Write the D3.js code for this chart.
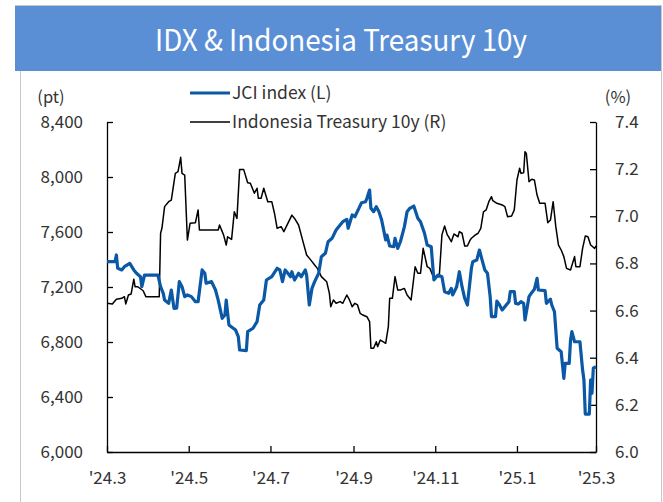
<!DOCTYPE html>
<html>
<head>
<meta charset="utf-8">
<script src="https://cdn.jsdelivr.net/npm/d3@7"></script>
<style>
  html, body { margin: 0; padding: 0; background: #fff; }
  svg text { font-family: "Noto Sans CJK KR", "Noto Sans", sans-serif; fill: #333; }
</style>
</head>
<body>
<svg id="chart" width="663" height="502"></svg>
<script>
// JCI index (L)
const jciDates = ["2024-03-01","2024-03-07","2024-03-08","2024-03-09","2024-03-12","2024-03-14","2024-03-18","2024-03-21","2024-03-23","2024-03-26","2024-03-27","2024-03-29","2024-04-08","2024-04-10","2024-04-12","2024-04-13","2024-04-16","2024-04-18","2024-04-20","2024-04-22","2024-04-24","2024-04-26","2024-04-28","2024-04-30","2024-05-03","2024-05-06","2024-05-08","2024-05-11","2024-05-13","2024-05-14","2024-05-18","2024-05-21","2024-05-23","2024-05-26","2024-05-28","2024-05-29","2024-05-31","2024-06-05","2024-06-07","2024-06-08","2024-06-13","2024-06-14","2024-06-18","2024-06-21","2024-06-23","2024-06-26","2024-06-28","2024-07-02","2024-07-06","2024-07-08","2024-07-10","2024-07-12","2024-07-14","2024-07-16","2024-07-17","2024-07-19","2024-07-22","2024-07-24","2024-07-27","2024-07-28","2024-07-30","2024-08-01","2024-08-03","2024-08-06","2024-08-08","2024-08-11","2024-08-13","2024-08-16","2024-08-19","2024-08-22","2024-08-24","2024-08-27","2024-08-28","2024-08-31","2024-09-02","2024-09-05","2024-09-07","2024-09-10","2024-09-11","2024-09-13","2024-09-14","2024-09-16","2024-09-18","2024-09-20","2024-09-22","2024-09-23","2024-09-25","2024-09-26","2024-09-28","2024-10-01","2024-10-02","2024-10-04","2024-10-06","2024-10-09","2024-10-11","2024-10-13","2024-10-16","2024-10-19","2024-10-21","2024-10-24","2024-10-26","2024-10-29","2024-10-31","2024-11-03","2024-11-06","2024-11-08","2024-11-11","2024-11-13","2024-11-14","2024-11-17","2024-11-19","2024-11-21","2024-11-23","2024-11-25","2024-11-28","2024-11-29","2024-12-02","2024-12-04","2024-12-06","2024-12-08","2024-12-10","2024-12-12","2024-12-13","2024-12-16","2024-12-17","2024-12-19","2024-12-21","2024-12-24","2024-12-26","2024-12-27","2024-12-30","2024-12-31","2025-01-02","2025-01-04","2025-01-06","2025-01-07","2025-01-10","2025-01-12","2025-01-14","2025-01-16","2025-01-17","2025-01-22","2025-01-23","2025-01-26","2025-01-27","2025-01-29","2025-01-31","2025-02-03","2025-02-05","2025-02-06","2025-02-09","2025-02-10","2025-02-11","2025-02-13","2025-02-17","2025-02-19","2025-02-20","2025-02-21","2025-02-24","2025-02-25","2025-02-26","2025-02-27","2025-03-01"];
const jciValues = [7384,7384,7433,7336,7324,7348,7372,7324,7300,7275,7202,7287,7287,7202,7154,7105,7081,7178,7045,7047,7239,7202,7130,7142,7130,7093,7093,7324,7300,7227,7239,7178,7105,6972,6996,7105,6924,6887,6839,6742,6737,6875,6900,6948,7069,7105,7251,7275,7336,7324,7239,7324,7300,7275,7311,7251,7300,7275,7324,7287,7069,7190,7239,7300,7420,7445,7529,7554,7615,7651,7675,7692,7627,7724,7711,7772,7813,7820,7845,7905,7772,7748,7784,7748,7687,7639,7542,7578,7498,7493,7554,7481,7529,7639,7748,7772,7789,7700,7675,7591,7505,7493,7251,7287,7275,7166,7154,7190,7142,7202,7311,7202,7118,7069,7336,7384,7396,7469,7396,7324,7300,7130,6984,6984,7098,7069,7033,7069,7093,7166,7166,7081,7076,7093,7081,6960,7130,7159,7183,7263,7178,7173,7081,7111,7069,7020,6754,6729,6536,6645,6645,6815,6875,6802,6802,6596,6524,6276,6276,6524,6427,6609,6620];

// Indonesia Treasury 10y (R), %
const ytmDates = ["2024-03-01","2024-03-05","2024-03-08","2024-03-12","2024-03-14","2024-03-15","2024-03-17","2024-03-19","2024-03-21","2024-03-22","2024-03-24","2024-03-28","2024-03-30","2024-04-09","2024-04-10","2024-04-11","2024-04-13","2024-04-16","2024-04-18","2024-04-21","2024-04-23","2024-04-25","2024-04-26","2024-04-28","2024-04-30","2024-05-02","2024-05-06","2024-05-08","2024-05-09","2024-05-23","2024-05-24","2024-05-27","2024-05-29","2024-05-30","2024-06-02","2024-06-04","2024-06-06","2024-06-08","2024-06-11","2024-06-14","2024-06-16","2024-06-19","2024-06-21","2024-06-22","2024-06-24","2024-06-26","2024-06-29","2024-07-02","2024-07-04","2024-07-06","2024-07-09","2024-07-11","2024-07-14","2024-07-17","2024-07-19","2024-07-22","2024-07-25","2024-07-28","2024-07-31","2024-08-03","2024-08-05","2024-08-08","2024-08-12","2024-08-14","2024-08-15","2024-08-17","2024-08-19","2024-08-22","2024-08-24","2024-08-27","2024-08-29","2024-08-31","2024-09-02","2024-09-04","2024-09-06","2024-09-08","2024-09-11","2024-09-13","2024-09-14","2024-09-16","2024-09-18","2024-09-19","2024-09-21","2024-09-23","2024-09-25","2024-09-27","2024-09-28","2024-09-30","2024-10-02","2024-10-04","2024-10-06","2024-10-09","2024-10-11","2024-10-14","2024-10-17","2024-10-19","2024-10-21","2024-10-23","2024-10-26","2024-10-28","2024-10-30","2024-11-01","2024-11-04","2024-11-06","2024-11-08","2024-11-10","2024-11-11","2024-11-13","2024-11-15","2024-11-18","2024-11-19","2024-11-21","2024-11-23","2024-11-25","2024-11-27","2024-11-28","2024-12-01","2024-12-03","2024-12-05","2024-12-07","2024-12-09","2024-12-11","2024-12-13","2024-12-14","2024-12-17","2024-12-21","2024-12-23","2024-12-25","2024-12-28","2024-12-30","2025-01-01","2025-01-03","2025-01-04","2025-01-06","2025-01-07","2025-01-08","2025-01-10","2025-01-12","2025-01-14","2025-01-16","2025-01-18","2025-01-22","2025-01-24","2025-01-26","2025-01-28","2025-01-30","2025-02-01","2025-02-03","2025-02-05","2025-02-07","2025-02-10","2025-02-13","2025-02-14","2025-02-17","2025-02-19","2025-02-21","2025-02-23","2025-02-25","2025-02-28","2025-03-01"];
const ytmValues = [6.631,6.628,6.648,6.652,6.659,6.628,6.666,6.670,6.733,6.701,6.701,6.684,6.659,6.659,6.928,6.949,7.041,7.062,7.069,7.182,7.189,7.250,7.182,7.175,6.899,6.970,6.973,7.027,6.942,6.942,6.963,6.921,6.878,6.913,6.902,7.019,6.991,7.199,7.199,7.142,7.140,7.098,7.119,7.076,7.076,7.119,7.062,7.062,7.013,6.949,6.956,6.935,6.970,7.005,6.991,6.963,6.899,6.836,6.815,6.793,6.779,6.744,6.722,6.673,6.616,6.645,6.631,6.638,6.631,6.666,6.645,6.616,6.631,6.624,6.588,6.581,6.574,6.553,6.440,6.440,6.468,6.447,6.475,6.468,6.461,6.532,6.652,6.652,6.744,6.687,6.687,6.694,6.666,6.645,6.786,6.758,6.758,6.864,6.786,6.779,6.751,6.744,6.744,6.921,6.959,6.921,6.913,6.892,6.925,6.913,6.935,6.928,6.874,6.874,6.899,6.907,6.921,6.928,6.949,7.019,7.027,7.062,7.083,7.066,7.055,7.048,7.041,6.998,7.001,7.027,7.154,7.204,7.182,7.185,7.274,7.267,7.147,7.157,7.154,7.090,7.055,7.055,6.973,6.984,7.062,6.956,6.878,6.857,6.829,6.779,6.772,6.829,6.786,6.786,6.864,6.916,6.913,6.878,6.864,6.874];

const xTickDates = ["2024-03-01","2024-05-01","2024-07-01","2024-09-01","2024-11-01","2025-01-01","2025-03-01"];
const xTickLabels = ["'24.3","'24.5","'24.7","'24.9","'24.11","'25.1","'25.3"];
const leftTicks = [6000, 6400, 6800, 7200, 7600, 8000, 8400];
const rightTicks = [6.0, 6.2, 6.4, 6.6, 6.8, 7.0, 7.2, 7.4];

const parse = d3.timeParse("%Y-%m-%d");
const jci = jciDates.map((d, i) => ({ date: parse(d), v: jciValues[i] }));
const ytm = ytmDates.map((d, i) => ({ date: parse(d), v: ytmValues[i] }));

const svg = d3.select("#chart");
const plot = { left: 107, right: 596, top: 122, bottom: 452 };

// frame and title bar
svg.append("rect").attr("x", 15).attr("y", 5).attr("width", 647).attr("height", 66)
  .attr("fill", "#5a8fd6");
svg.append("line").attr("x1", 15).attr("x2", 662).attr("y1", 5.5).attr("y2", 5.5)
  .attr("stroke", "#c8c8c8");
svg.append("line").attr("x1", 20.5).attr("x2", 20.5).attr("y1", 71).attr("y2", 502)
  .attr("stroke", "#c8c8c8");
svg.append("line").attr("x1", 661.5).attr("x2", 661.5).attr("y1", 5).attr("y2", 502)
  .attr("stroke", "#c8c8c8");
svg.append("text").attr("x", 341).attr("y", 51).attr("text-anchor", "middle")
  .attr("font-size", 30).attr("textLength", 372).attr("lengthAdjust", "spacingAndGlyphs")
  .style("fill", "#fff").text("IDX & Indonesia Treasury 10y");

const x = d3.scaleTime()
  .domain([parse(xTickDates[0]), parse(xTickDates[xTickDates.length - 1])])
  .range([plot.left, plot.right]);
const yL = d3.scaleLinear().domain([6000, 8400]).range([plot.bottom, plot.top]);
const yR = d3.scaleLinear().domain([6.0, 7.4]).range([plot.bottom, plot.top]);

const styleAxis = g => {
  g.selectAll("path, line").attr("stroke", "#000").attr("stroke-width", 1.3);
  g.selectAll("text").attr("font-size", 17).attr("fill", "#333");
};

svg.append("g").attr("transform", `translate(0,${plot.bottom})`)
  .call(d3.axisBottom(x).tickValues(xTickDates.map(parse))
    .tickFormat((d, i) => xTickLabels[i]).tickSizeInner(-6).tickSizeOuter(0).tickPadding(20))
  .call(styleAxis);

svg.append("g").attr("transform", `translate(${plot.left},0)`)
  .call(d3.axisLeft(yL).tickValues(leftTicks).tickFormat(d3.format(","))
    .tickSizeInner(-6).tickSizeOuter(0).tickPadding(24))
  .call(styleAxis);

svg.append("g").attr("transform", `translate(${plot.right},0)`)
  .call(d3.axisRight(yR).tickValues(rightTicks).tickFormat(d3.format(".1f"))
    .tickSizeInner(-6).tickSizeOuter(0).tickPadding(19))
  .call(styleAxis);

svg.selectAll("g.tick text").attr("font-family", "inherit");

// unit labels
svg.append("text").attr("x", 51).attr("y", 103).attr("text-anchor", "middle")
  .attr("font-size", 16.5).text("(pt)");
svg.append("text").attr("x", 618).attr("y", 103).attr("text-anchor", "middle")
  .attr("font-size", 16.5).text("(%)");

// lines
svg.append("path").datum(ytm)
  .attr("fill", "none").attr("stroke", "#000").attr("stroke-width", 1.5)
  .attr("stroke-linejoin", "round")
  .attr("d", d3.line().x(d => x(d.date)).y(d => yR(d.v)));

svg.append("path").datum(jci)
  .attr("fill", "none").attr("stroke", "#0b59a6").attr("stroke-width", 3.2)
  .attr("stroke-linejoin", "round")
  .attr("d", d3.line().x(d => x(d.date)).y(d => yL(d.v)));

// legend
const legend = [
  { name: "JCI index (L)", color: "#0b59a6", width: 3.2, y: 93 },
  { name: "Indonesia Treasury 10y (R)", color: "#000", width: 1.5, y: 122 }
];
const lg = svg.append("g").selectAll("g").data(legend).join("g")
  .attr("transform", d => `translate(190,${d.y})`);
lg.append("line").attr("x1", 0).attr("x2", 40)
  .attr("stroke", d => d.color).attr("stroke-width", d => d.width);
lg.append("text").attr("x", 42).attr("dy", "0.35em").attr("font-size", 17.5)
  .text(d => d.name);
</script>
</body>
</html>
